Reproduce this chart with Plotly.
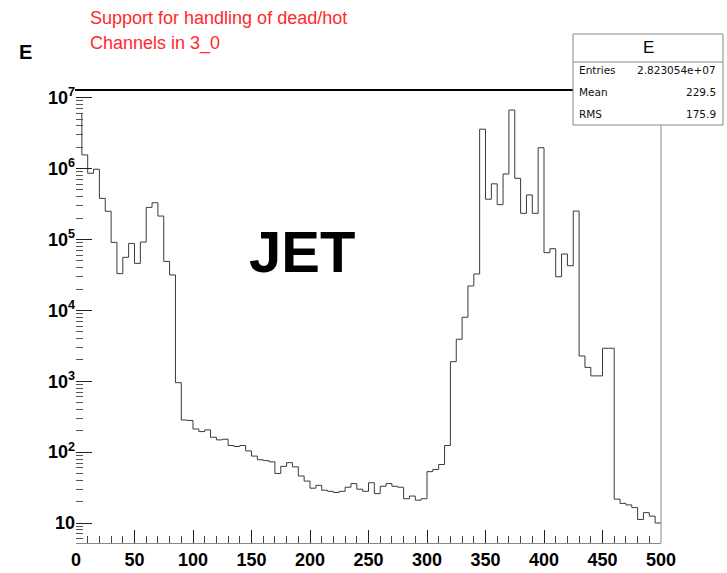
import plotly.graph_objects as go

# ---------------- data ----------------
x_low, x_high, n_bins = 0, 500, 100
bin_width = (x_high - x_low) / n_bins

counts = [
    6.0e6, 1.56e6, 8.6e5, 9.8e5, 3.8e5, 2.5e5, 9.1e4, 3.3e4, 5.6e4, 8.8e4,
    4.6e4, 9.2e4, 2.84e5, 3.3e5, 2.14e5, 4.9e4, 3.16e4, 955, 284, 280,
    212, 195, 206, 162, 149, 152, 124, 120, 124, 104,
    88, 78, 76, 73, 50, 63, 71, 62, 46, 39,
    31, 34, 29, 28, 27, 28, 32, 36, 30, 28,
    37, 26, 33, 36, 33, 32, 22, 24, 21, 22,
    53, 57, 67, 124, 1890, 3910, 8000, 22100, 32600, 3.6e6,
    3.7e5, 6.1e5, 3.1e5, 8.4e5, 6.7e6, 7.3e5, 2.34e5, 4.25e5, 2.34e5, 1.97e6,
    65100, 74100, 29800, 62400, 42600, 2.52e5, 2270, 1570, 1190, 1190,
    2920, 2920, 21.7, 18.9, 18, 16.5, 11.2, 14, 12.5, 10,
]

y_tick_vals = [1e1, 1e2, 1e3, 1e4, 1e5, 1e6, 1e7]
y_tick_text = ["10", "10<sup>2</sup>", "10<sup>3</sup>", "10<sup>4</sup>",
               "10<sup>5</sup>", "10<sup>6</sup>", "10<sup>7</sup>"]
y_minor_vals = [m * 10 ** d for d in range(0, 7) for m in range(2, 10)]
x_tick_vals = list(range(0, 501, 50))

hist_name = "E"
stats_labels = ["Entries", "Mean", "RMS"]
stats_values = ["2.823054e+07", "229.5", "175.9"]
note_lines = ["Support for handling of dead/hot", "Channels in 3_0"]
big_label = "JET"

# ---------------- geometry helpers (pixels -> paper) ----------------
W, H = 727, 573
L, R, T, B = 76, 66, 90, 30
PW, PH = W - L - R, H - T - B


def px(xp):
    return (xp - L) / PW


def py(yp):
    return (H - B - yp) / PH


edges = [x_low + i * bin_width for i in range(n_bins)]
xs = edges + [x_high]
ys = counts + [counts[-1]]

fig = go.Figure()
fig.add_trace(go.Scatter(
    x=xs, y=ys, mode="lines", line=dict(shape="hv", color="#3a3a3a", width=1),
    hoverinfo="skip", showlegend=False, cliponaxis=True,
))

axis_font = dict(family="Liberation Sans, Arial, sans-serif", size=18, color="black", weight="bold")

fig.update_layout(
    width=W, height=H,
    margin=dict(l=L, r=R, t=T, b=B, pad=0, autoexpand=False),
    paper_bgcolor="white", plot_bgcolor="white",
    xaxis=dict(
        range=[x_low, x_high], showgrid=False, zeroline=False, automargin=False,
        showline=True, linecolor="#888", linewidth=1,
        tickmode="array", tickvals=x_tick_vals, ticks="inside", ticklen=13,
        tickcolor="#222", tickwidth=1, tickfont=axis_font,
        minor=dict(dtick=10, tick0=0, ticks="inside", ticklen=7, tickcolor="#444", tickwidth=1),
    ),
    yaxis=dict(
        type="log", range=[0.718, 7.109], showgrid=False, zeroline=False, automargin=False,
        showline=False,
        tickmode="array", tickvals=y_tick_vals, ticktext=y_tick_text,
        ticks="inside", ticklen=16, tickcolor="#222", tickwidth=1, tickfont=axis_font,
        minor=dict(tickmode="array", tickvals=y_minor_vals, ticks="inside", ticklen=7,
                   tickcolor="#555", tickwidth=1),
    ),
)

shapes = []
# top frame line (thick, black)
shapes.append(dict(type="line", xref="paper", yref="paper", x0=px(75), x1=px(680),
                   y0=1, y1=1, line=dict(color="black", width=2), layer="above"))
# right frame line
shapes.append(dict(type="line", xref="paper", yref="paper", x0=1, x1=1, y0=0, y1=1,
                   line=dict(color="#888", width=1), layer="above"))
# stats box
box_l, box_r, box_t, box_b, sep = 573, 723, 34, 125, 62
shapes.append(dict(type="rect", xref="paper", yref="paper", x0=px(box_l), x1=px(box_r),
                   y0=py(box_b), y1=py(box_t), fillcolor="white",
                   line=dict(color="#888", width=1), layer="above"))
shapes.append(dict(type="line", xref="paper", yref="paper", x0=px(box_l), x1=px(box_r),
                   y0=py(sep), y1=py(sep), line=dict(color="#888", width=1), layer="above"))
fig.update_layout(shapes=shapes)

ann = []
ann.append(dict(x=px((box_l + box_r) / 2), y=py(48), xref="paper", yref="paper", text=hist_name,
                showarrow=False, xanchor="center", yanchor="middle",
                font=dict(family="Liberation Sans, Arial", size=17, color="black")))
row_y = [70, 92, 114]
stat_font = dict(family="DejaVu Sans, sans-serif", size=10.5, color="#111")
for lab, val, ry in zip(stats_labels, stats_values, row_y):
    ann.append(dict(x=px(577), y=py(ry), xref="paper", yref="paper", text=lab, showarrow=False,
                    xanchor="left", yanchor="middle", font=stat_font))
    ann.append(dict(x=px(718), y=py(ry), xref="paper", yref="paper", text=val, showarrow=False,
                    xanchor="right", yanchor="middle", font=stat_font))
# histogram name top-left
ann.append(dict(x=px(17), y=py(52), xref="paper", yref="paper", text=hist_name, showarrow=False,
                xanchor="left", yanchor="middle",
                font=dict(family="Liberation Sans, Arial", size=20, color="black", weight="bold")))
# red note
for i, line in enumerate(note_lines):
    ann.append(dict(x=px(88), y=py(18 + 26 * i), xref="paper", yref="paper", text=line,
                    showarrow=False, xanchor="left", yanchor="middle",
                    font=dict(family="Liberation Sans, Arial", size=18, color="#ff2a2a")))
# big JET label
ann.append(dict(x=px(302), y=py(251), xref="paper", yref="paper", text=big_label, showarrow=False,
                xanchor="center", yanchor="middle",
                font=dict(family="Liberation Sans, Arial", size=58, color="black", weight="bold")))
fig.update_layout(annotations=ann)

fig.write_html("out.html", config={"displayModeBar": False},
               post_script="document.body.style.margin='0px';")
